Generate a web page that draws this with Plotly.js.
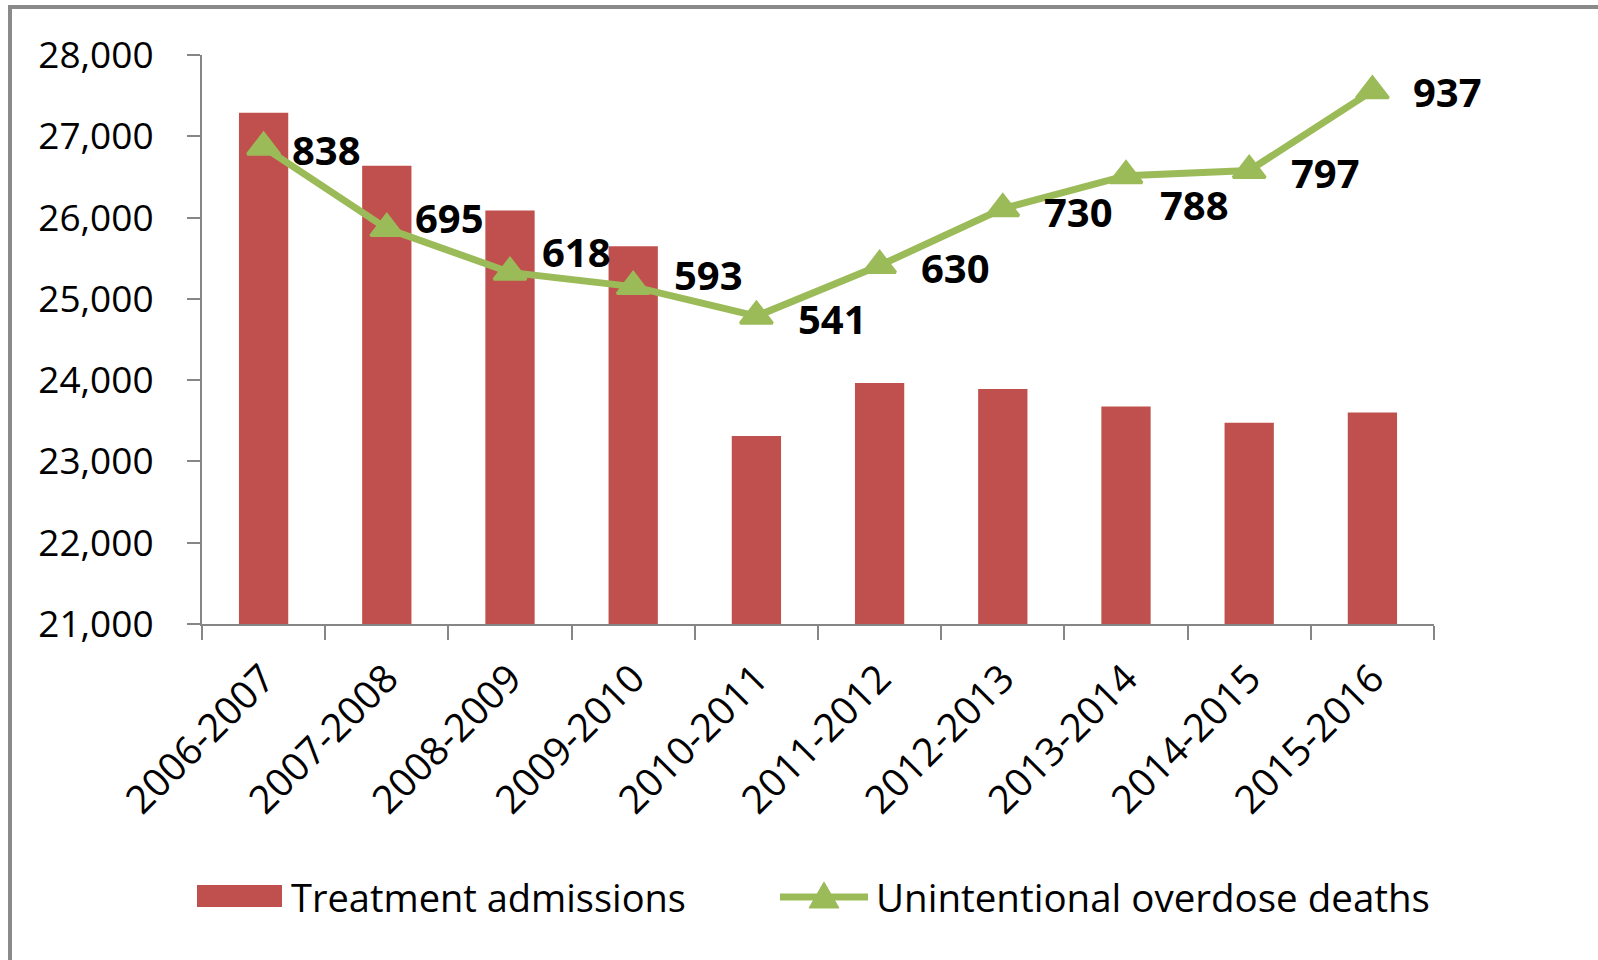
<!DOCTYPE html>
<html>
<head>
<meta charset="utf-8">
<script src="https://cdn.plot.ly/plotly-3.0.1.min.js"></script>
<style>
  html, body { margin: 0; padding: 0; background: #fff; }
  #chart { width: 1598px; height: 960px; }
</style>
</head>
<body>
<div id="chart"></div>
<script>
// ---- data ----
const categories = ["2006-2007","2007-2008","2008-2009","2009-2010","2010-2011",
                    "2011-2012","2012-2013","2013-2014","2014-2015","2015-2016"];
const treatmentAdmissions = [27290, 26637, 26086, 25647, 23313, 23965, 23890, 23677, 23476, 23602];
const overdoseDeaths = [838, 695, 618, 593, 541, 630, 730, 788, 797, 937];
const seriesNames = ["Treatment admissions", "Unintentional overdose deaths"];
const yTickVals = [21000, 22000, 23000, 24000, 25000, 26000, 27000, 28000];

// ---- style / layout ----
const W = 1598, H = 960;
const M = { l: 202, r: 164, t: 55, b: 336 };
const PW = W - M.l - M.r, PH = H - M.t - M.b;
const px2x = p => (p - M.l) / PW;
const px2y = p => (H - M.b - p) / PH;

const RED = "#C0504D", GREEN = "#9BBB59", AXIS = "#868686";
const FONT = "Open Sans, Noto Sans, Liberation Sans, sans-serif";

// label offsets (pixels) for the death labels, as placed in the original
const labelDx = [26, 26, 30, 39, 40, 39, 39, 32, 40, 39];
const labelDy = [2, -11, -21, -12, 2, 2, 3, 29, 2, 1];

const traces = [
  {
    type: "bar",
    name: seriesNames[0],
    x: categories,
    y: treatmentAdmissions,
    marker: { color: RED },
    yaxis: "y",
    showlegend: false,
    hoverinfo: "x+y"
  },
  {
    type: "scatter",
    mode: "lines+markers",
    name: seriesNames[1],
    x: categories,
    y: overdoseDeaths,
    yaxis: "y2",
    line: { color: GREEN, width: 7 },
    marker: { symbol: "triangle-up", size: 28, color: GREEN, line: { color: GREEN, width: 3 } },
    showlegend: false,
    cliponaxis: false
  }
];

const annotations = overdoseDeaths.map((v, i) => ({
  x: categories[i], y: v, xref: "x", yref: "y2",
  text: String(v), showarrow: false,
  xanchor: "left", yanchor: "middle",
  xshift: labelDx[i], yshift: -labelDy[i],
  font: { family: FONT, size: 40, color: "#000", weight: "bold" }
}));

// legend text
annotations.push({
  xref: "paper", yref: "paper", x: px2x(289), y: px2y(897),
  xanchor: "left", yanchor: "middle", showarrow: false,
  text: seriesNames[0], font: { family: FONT, size: 38, color: "#000" }
});
annotations.push({
  xref: "paper", yref: "paper", x: px2x(874), y: px2y(897),
  xanchor: "left", yanchor: "middle", showarrow: false,
  text: seriesNames[1], font: { family: FONT, size: 38.5, color: "#000" }
});

const triPath = (cx, cy, w, h) => {
  const x0 = px2x(cx - w / 2), x1 = px2x(cx + w / 2), xm = px2x(cx);
  const yb = px2y(cy + h / 2), yt = px2y(cy - h / 2);
  return `M${x0},${yb} L${xm},${yt} L${x1},${yb} Z`;
};

const shapes = [
  // outer frame (left + top)
  { type: "line", xref: "paper", yref: "paper", x0: px2x(10), x1: px2x(10), y0: px2y(7), y1: px2y(965),
    line: { color: "#8a8a8a", width: 4 }, layer: "above" },
  { type: "line", xref: "paper", yref: "paper", x0: px2x(8), x1: px2x(1605), y0: px2y(7), y1: px2y(7),
    line: { color: "#8a8a8a", width: 4 }, layer: "above" },
  // legend symbol: bar
  { type: "rect", xref: "paper", yref: "paper", x0: px2x(197), x1: px2x(282), y0: px2y(907), y1: px2y(885),
    fillcolor: RED, line: { width: 0 } },
  // legend symbol: line + triangle
  { type: "line", xref: "paper", yref: "paper", x0: px2x(780), x1: px2x(868), y0: px2y(897), y1: px2y(897),
    line: { color: GREEN, width: 7 } },
  { type: "path", xref: "paper", yref: "paper", path: triPath(824, 895, 30, 26),
    fillcolor: GREEN, line: { color: GREEN, width: 1 } }
];

const layout = {
  width: W, height: H,
  margin: M,
  paper_bgcolor: "#fff", plot_bgcolor: "#fff",
  font: { family: FONT, color: "#000" },
  showlegend: false,
  bargap: 0.6,
  xaxis: {
    type: "category",
    range: [-0.5, categories.length - 0.5],
    autorange: false,
    showgrid: false, zeroline: false,
    showline: true, linecolor: AXIS, linewidth: 2,
    ticks: "outside", ticklen: 14, tickcolor: AXIS, tickwidth: 2,
    tickson: "boundaries",
    tickangle: -45,
    tickfont: { family: FONT, size: 39, color: "#000" },
    ticklabelstandoff: 14
  },
  yaxis: {
    range: [21000, 28000],
    autorange: false,
    tickvals: yTickVals,
    tickformat: ",d",
    showgrid: false, zeroline: false,
    showline: true, linecolor: AXIS, linewidth: 2,
    ticks: "outside", ticklen: 13, tickcolor: AXIS, tickwidth: 2,
    tickfont: { family: FONT, size: 37, color: "#000" },
    ticklabelstandoff: 26
  },
  yaxis2: {
    range: [0, 1000],
    autorange: false,
    overlaying: "y", side: "right",
    visible: false, showgrid: false, zeroline: false
  },
  annotations: annotations,
  shapes: shapes
};

Plotly.newPlot("chart", traces, layout, { displayModeBar: false, staticPlot: true });
</script>
</body>
</html>
